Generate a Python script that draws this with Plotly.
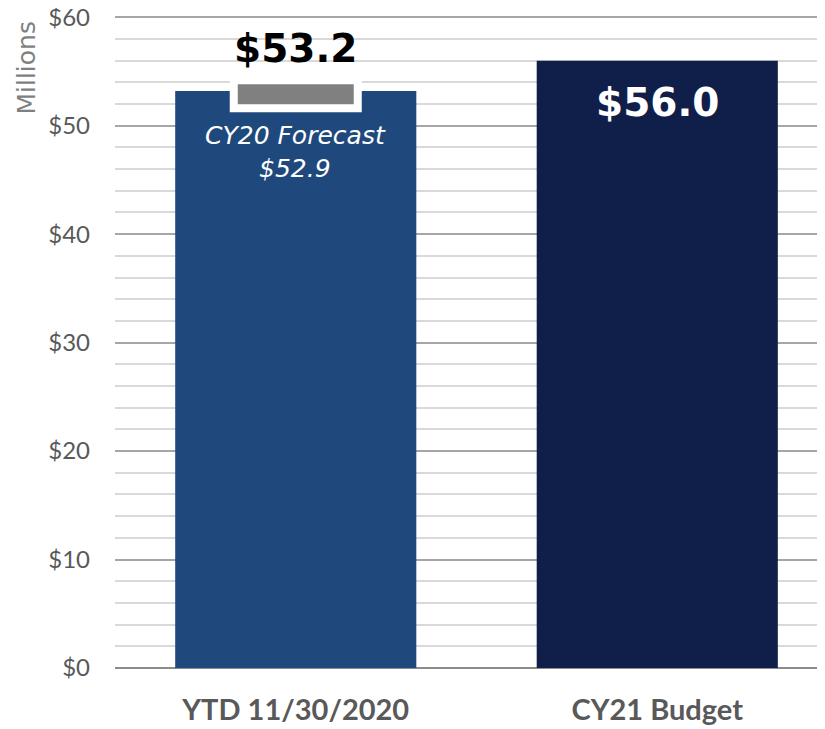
import plotly.graph_objects as go

# data (millions of dollars)
categories = ["YTD 11/30/2020", "CY21 Budget"]
values = [53.2, 56.0]
value_labels = ["$53.2", "$56.0"]
forecast_value = 52.9
forecast_label = "CY20 Forecast<br>$52.9"
tick_vals = [0, 10, 20, 30, 40, 50, 60]
tick_text = ["$0", "$10", "$20", "$30", "$40", "$50", "$60"]

bar_colors = ["#1f497d", "#101f49"]
light_font = "Lato, 'Open Sans', sans-serif"
wide_font = "'DejaVu Sans', sans-serif"

fig = go.Figure()

# main bars
fig.add_trace(
    go.Bar(
        x=[0, 1],
        y=values,
        width=0.667,
        marker=dict(color=bar_colors, line=dict(width=0)),
        hoverinfo="skip",
        showlegend=False,
    )
)

# forecast marker: grey block with white outline centred on the forecast
marker_half = 1.3
fig.add_trace(
    go.Bar(
        x=[0],
        y=[2 * marker_half],
        base=[forecast_value - marker_half],
        width=0.343,
        marker=dict(color="#808080", line=dict(color="white", width=8)),
        hoverinfo="skip",
        showlegend=False,
    )
)

# value labels
fig.add_annotation(
    x=0, y=values[0], yshift=43, text="<b>" + value_labels[0] + "</b>",
    showarrow=False, font=dict(size=39, color="black", family=wide_font),
)
fig.add_annotation(
    x=1, y=values[1], yshift=-42, text="<b>" + value_labels[1] + "</b>",
    showarrow=False, font=dict(size=39, color="white", family=wide_font),
)
fig.add_annotation(
    x=0, y=forecast_value, yshift=-58,
    text="<i>" + forecast_label + "</i>",
    showarrow=False, font=dict(size=25, color="white", family=wide_font),
)

# axis title
fig.add_annotation(
    xref="paper", yref="paper", x=-0.124, y=0.993,
    text="Millions", textangle=-90, showarrow=False,
    xanchor="center", yanchor="top",
    font=dict(size=25, color="#7f7f7f", family=wide_font),
)

# page body adds an 8px margin, so the figure is 8px smaller than the window
fig.update_layout(
    width=817,
    height=721,
    margin=dict(l=107, r=0, t=6, b=61),
    plot_bgcolor="white",
    paper_bgcolor="white",
    barmode="overlay",
    font=dict(family=light_font),
    xaxis=dict(
        range=[-0.5, 1.464],
        tickvals=[0, 1],
        ticktext=["<b>" + c + "</b>" for c in categories],
        tickfont=dict(size=29, color="#595959", family=light_font),
        showgrid=False,
        zeroline=False,
        showline=False,
        ticks="",
        ticklabelstandoff=22,
        automargin=False,
    ),
    yaxis=dict(
        range=[0, 60.3],
        tickvals=tick_vals,
        ticktext=tick_text,
        tickfont=dict(size=24, color="#595959", family=light_font),
        ticklabeloverflow="allow",
        showgrid=True,
        gridcolor="#a6a6a6",
        gridwidth=2,
        zeroline=True,
        zerolinecolor="#8c8c8c",
        zerolinewidth=2,
        ticks="",
        ticklabelstandoff=24,
        automargin=False,
        minor=dict(dtick=2, showgrid=True, gridcolor="#d9d9d9", gridwidth=2),
    ),
)

fig.write_html("out.html")
